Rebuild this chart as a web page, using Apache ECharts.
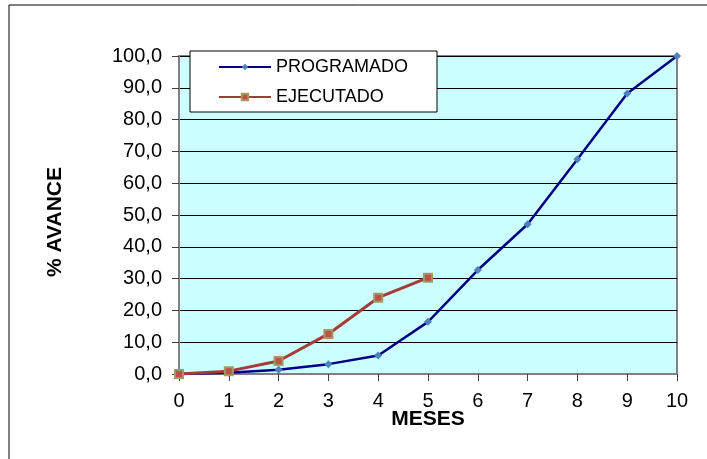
<!DOCTYPE html>
<html>
<head>
<meta charset="utf-8">
<script src="https://cdn.jsdelivr.net/npm/echarts@6/dist/echarts.min.js"></script>
<style>html,body{margin:0;padding:0;background:#fff}#c{width:707px;height:459px}</style>
</head>
<body>
<div id="c"></div>
<script>
const months = [0,1,2,3,4,5,6,7,8,9,10];
const programado = [0,0.4,1.3,3.1,5.8,16.4,32.7,47.1,67.5,88.2,100];
const ejecutado = [0,0.9,4.1,12.6,24.0,30.3];
const seriesNames = ['PROGRAMADO','EJECUTADO'];
const xTitle = 'MESES';
const yTitle = '% AVANCE';

const chart = echarts.init(document.getElementById('c'));
const font = 'Liberation Sans, Arial, sans-serif';
chart.setOption({
  animation:false,
  textStyle:{fontFamily:font},
  graphic:[{type:'rect',shape:{x:9,y:5,width:720,height:470},style:{fill:'none',stroke:'#000',lineWidth:1},z:-10}],
  grid:{left:179,right:30,top:56,bottom:85,show:true,backgroundColor:'#CCFFFF',borderColor:'#808080',borderWidth:2},
  legend:{
    orient:'vertical',left:190,top:51,
    backgroundColor:'#fff',borderColor:'#000',borderWidth:1,
    padding:[7,29,6,28],
    itemWidth:52,itemHeight:8,itemGap:12,
    textStyle:{fontSize:18,color:'#000',fontFamily:font},
    data:seriesNames
  },
  xAxis:{
    type:'value',min:0,max:10,interval:1,
    name:xTitle,nameLocation:'middle',nameGap:35,nameMoveOverlap:false,
    nameTextStyle:{fontSize:21,fontWeight:'bold',color:'#000',fontFamily:font},
    axisLine:{show:true,lineStyle:{color:'#808080',width:2}},
    axisTick:{show:true,length:7,lineStyle:{color:'#404040',width:1}},
    axisLabel:{fontSize:20,color:'#000',margin:17,fontFamily:font},
    splitLine:{show:false}
  },
  yAxis:{
    type:'value',min:0,max:100,interval:10,
    name:yTitle,nameLocation:'middle',nameGap:113,nameRotate:90,nameMoveOverlap:false,
    nameTextStyle:{fontSize:21,fontWeight:'bold',color:'#000',fontFamily:font,padding:[0,14,0,0]},
    axisLine:{show:true,lineStyle:{color:'#808080',width:2}},
    axisTick:{show:true,length:7,lineStyle:{color:'#404040',width:1}},
    axisLabel:{fontSize:20,color:'#000',margin:17,fontFamily:font,formatter:v=>v.toFixed(1).replace('.',',')},
    splitLine:{show:true,lineStyle:{color:'#000',width:1}}
  },
  series:[
    {name:seriesNames[0],type:'line',data:months.map((m,i)=>[m,programado[i]]),
     lineStyle:{color:'#000080',width:2.5},symbol:'diamond',symbolSize:8,
     itemStyle:{color:'#4F81BD',borderColor:'#4F81BD',borderWidth:0},z:3},
    {name:seriesNames[1],type:'line',data:ejecutado.map((v,i)=>[months[i],v]),
     lineStyle:{color:'#A33B37',width:3},symbol:'rect',symbolSize:8,
     itemStyle:{color:'#C0504D',borderColor:'#A09A60',borderWidth:2},z:4}
  ]
});
</script>
</body>
</html>
